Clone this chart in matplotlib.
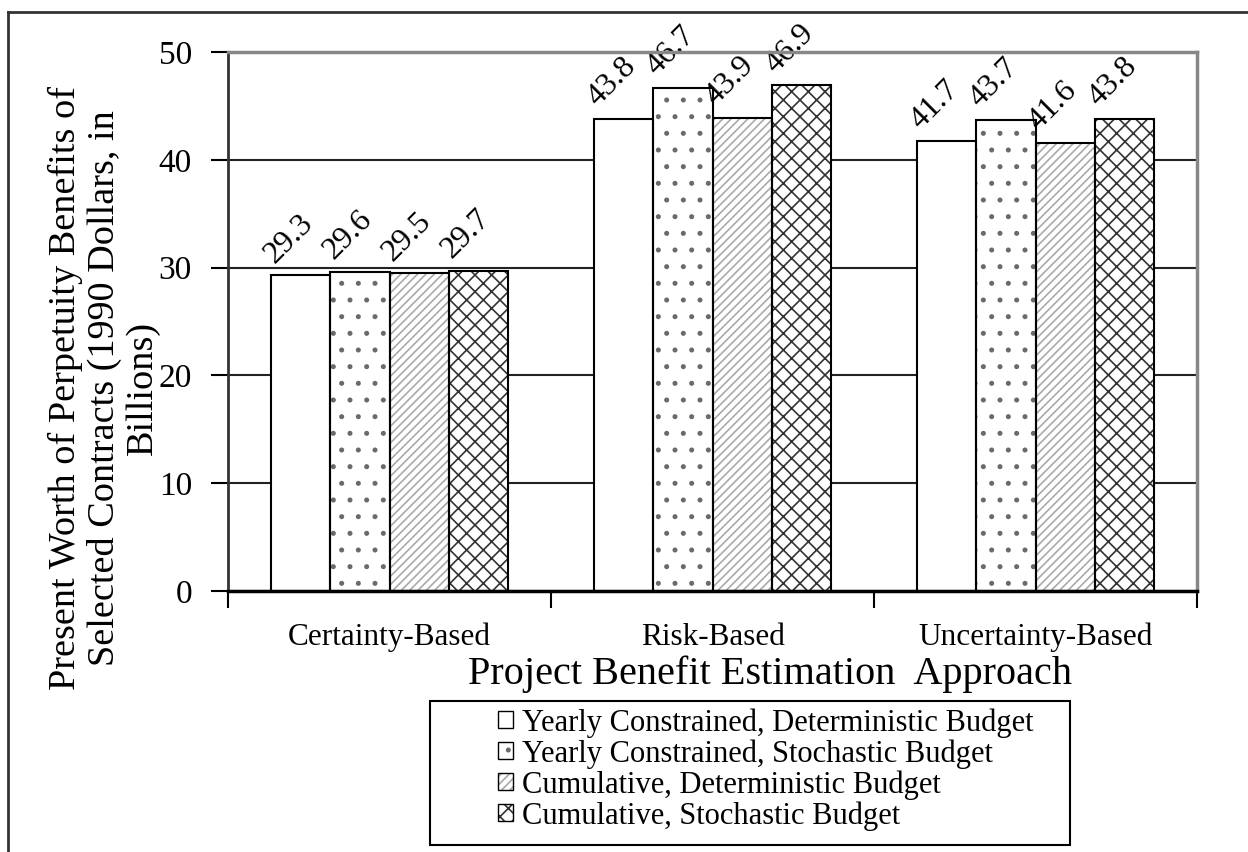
import matplotlib
matplotlib.use("Agg")
import matplotlib.pyplot as plt
from matplotlib.lines import Line2D
from matplotlib.patches import Rectangle, Patch
import numpy as np

plt.rcParams['font.family'] = ['Liberation Serif', 'DejaVu Serif']
plt.rcParams['hatch.linewidth'] = 1.2

categories = ['Certainty-Based', 'Risk-Based', 'Uncertainty-Based']
series = ['Yearly Constrained, Deterministic Budget',
          'Yearly Constrained, Stochastic Budget',
          'Cumulative, Deterministic Budget',
          'Cumulative, Stochastic Budget']
yearly_det = [29.3, 43.8, 41.7]
yearly_sto = [29.6, 46.7, 43.7]
cum_det = [29.5, 43.9, 41.6]
cum_sto = [29.7, 46.9, 43.8]
values = [yearly_det, yearly_sto, cum_det, cum_sto]

hatches = ['', '.', '////', 'xx']
hatch_colors = ['white', '#6a6a6a', '#aaaaaa', '#333333']

fig = plt.figure(figsize=(12.48, 8.52), dpi=100)
ax = fig.add_axes([228/1248, 1-591/852, 969/1248, 539/852])

x = np.arange(len(categories))
w = 0.183
handles = []
for i, vals in enumerate(values):
    pos = x + (i - 1.5) * w
    ax.bar(pos, vals, w, color='white', edgecolor=hatch_colors[i],
           hatch=hatches[i], linewidth=0, zorder=3)
    ax.bar(pos, vals, w, fill=False, edgecolor='black', linewidth=1.5, zorder=4)
    for p, v in zip(pos, vals):
        ax.text(p - 0.36*w, v + 0.6, f"{v:.1f}", rotation=45, rotation_mode='anchor',
                ha='left', va='bottom', fontsize=23, zorder=5)
    h1 = Patch(facecolor='white', edgecolor=hatch_colors[i], hatch=hatches[i], linewidth=0)
    h2 = Patch(fill=False, edgecolor='black', linewidth=1.0)
    handles.append((h1, h2))

ax.set_xlim(-0.5, 2.5)
ax.set_ylim(0, 50)
ax.set_yticks([0, 10, 20, 30, 40, 50])
ax.tick_params(axis='y', direction='out', length=12, width=1.5, labelsize=24, pad=14)
ax.set_xticks(x)
ax.set_xticklabels(categories)
ax.tick_params(axis='x', which='major', length=0, labelsize=22.5, pad=23)
ax.set_xticks([-0.5, 0.5, 1.5, 2.5], minor=True)
ax.tick_params(axis='x', which='minor', direction='out', length=12, width=1.5)

ax.yaxis.grid(True, color='#222222', linewidth=1.5, zorder=1)
ax.set_axisbelow(True)
ax.spines['top'].set_color('#888888')
ax.spines['right'].set_color('#888888')
ax.spines['top'].set_linewidth(2.5)
ax.spines['right'].set_linewidth(2.5)
ax.spines['left'].set_color('#333333')
ax.spines['left'].set_linewidth(2)
ax.spines['bottom'].set_color('black')
ax.spines['bottom'].set_linewidth(2.5)
for s in ax.spines.values():
    s.set_zorder(6)

fig.text(104/1248, 1-388/852, 'Present Worth of Perpetuity Benefits of\nSelected Contracts (1990 Dollars, in\nBillions)',
         rotation=90, ha='center', va='center', multialignment='center', fontsize=27.5,
         linespacing=1.12)
fig.text(770/1248, 1-674/852, 'Project Benefit Estimation  Approach', ha='center', va='center',
         fontsize=29)

# legend frame drawn separately (wide, Excel-style)
fig.add_artist(Rectangle((430/1248, 1-845/852), 640/1248, 144/852, transform=fig.transFigure,
                         fill=False, edgecolor='black', linewidth=1.5))
fig.legend(handles, series, loc='upper left', bbox_to_anchor=(498/1248, 1-708/852),
           frameon=False, fontsize=22, handlelength=0.5, handleheight=0.5,
           handletextpad=0.3, labelspacing=0.05, borderaxespad=0, borderpad=0)

# figure border (left and top)
fig.add_artist(Line2D([8/1248, 8/1248], [0, 1-12/852], transform=fig.transFigure,
                      color='#333333', linewidth=2))
fig.add_artist(Line2D([8/1248, 1], [1-12/852, 1-12/852], transform=fig.transFigure,
                      color='#333333', linewidth=2))

fig.savefig('out.png', dpi=100)
